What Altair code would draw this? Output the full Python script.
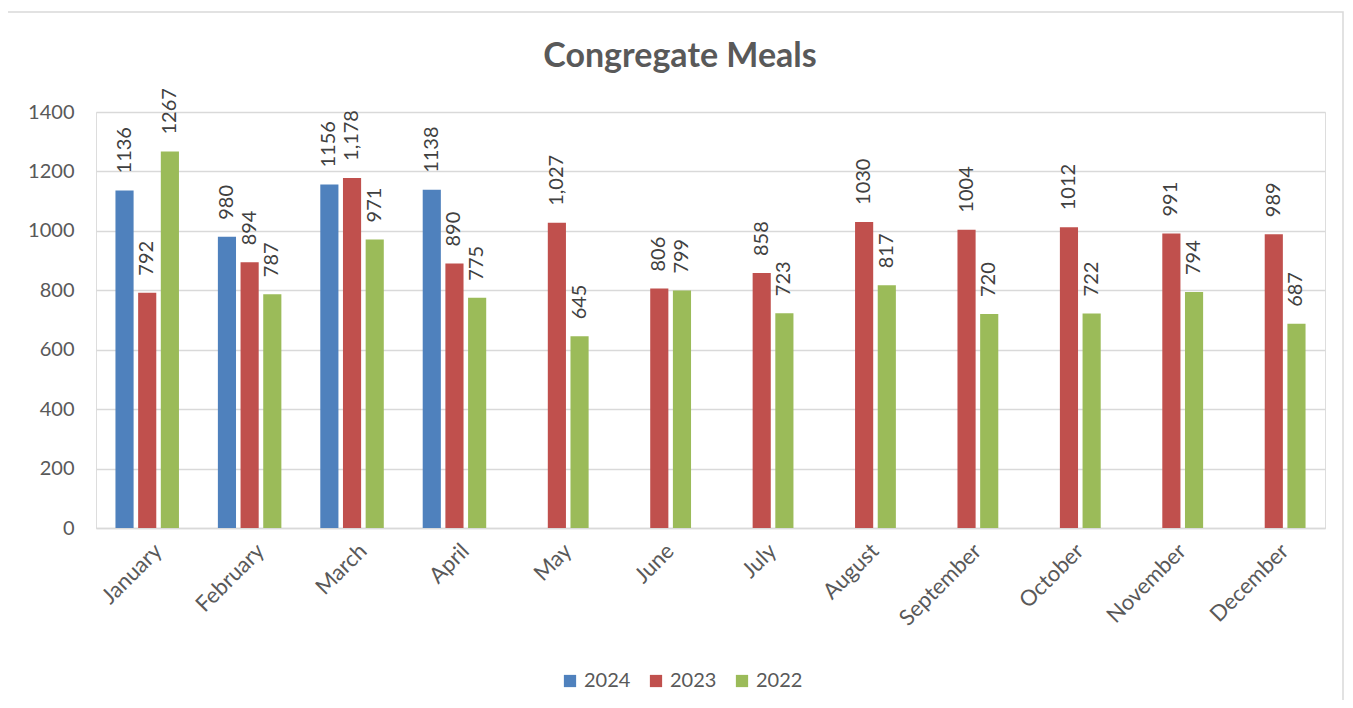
import altair as alt
import pandas as pd

months = ["January", "February", "March", "April", "May", "June", "July",
          "August", "September", "October", "November", "December"]
years = ["2024", "2023", "2022"]

vals_2024 = [1136, 980, 1156, 1138]
labels_2024 = ["1136", "980", "1156", "1138"]
vals_2023 = [792, 894, 1178, 890, 1027, 806, 858, 1030, 1004, 1012, 991, 989]
labels_2023 = ["792", "894", "1,178", "890", "1,027", "806", "858", "1030", "1004", "1012", "991", "989"]
vals_2022 = [1267, 787, 971, 775, 645, 799, 723, 817, 720, 722, 794, 687]
labels_2022 = ["1267", "787", "971", "775", "645", "799", "723", "817", "720", "722", "794", "687"]

chart_title = ["Congregate Meals"]
colors = ["#4F81BD", "#C0504D", "#9BBB59"]

rows = []
for yr, vals, labs in [("2024", vals_2024, labels_2024),
                       ("2023", vals_2023, labels_2023),
                       ("2022", vals_2022, labels_2022)]:
    for m, v, l in zip(months, vals, labs):
        rows.append({"month": m, "year": yr, "value": v, "label": l})
df = pd.DataFrame(rows)

FONT = "Lato"
GREY = "#595959"

x_enc = alt.X("month:N", sort=months, title=None,
              scale=alt.Scale(paddingInner=0.38, paddingOuter=0.19),
              axis=alt.Axis(labelAngle=-45, labelFontSize=22, labelColor=GREY,
                            labelFont=FONT, ticks=False, domainColor="#d9d9d9",
                            domainWidth=1.5, labelPadding=12, labelOffset=4))
xo_enc = alt.XOffset("year:N", sort=years,
                     scale=alt.Scale(domain=years, paddingInner=0.2, paddingOuter=0))
y_enc = alt.Y("value:Q", title=None,
              scale=alt.Scale(domain=[0, 1400], nice=False),
              axis=alt.Axis(values=list(range(0, 1401, 200)), format="d", labelFontSize=20,
                            labelColor=GREY, labelFont=FONT, ticks=False, domain=False,
                            gridColor="#d9d9d9", gridWidth=1.5, labelPadding=22))

bars = alt.Chart(df).mark_bar().encode(
    x=x_enc, xOffset=xo_enc, y=y_enc,
    color=alt.Color("year:N", sort=years,
                    scale=alt.Scale(domain=years, range=colors),
                    legend=alt.Legend(title=None, orient="none", direction="horizontal",
                                      legendX=464, legendY=559, symbolType="square",
                                      symbolSize=150, symbolStrokeWidth=0,
                                      labelFontSize=20, labelFont=FONT, labelColor=GREY,
                                      columnPadding=15, labelOffset=4)),
)

texts = alt.Chart(df).mark_text(angle=270, align="left", baseline="middle", dx=17,
                                fontSize=20, font=FONT, color="#404040").encode(
    x=alt.X("month:N", sort=months), xOffset=alt.XOffset("year:N", sort=years),
    y="value:Q", text="label:N",
)

title = alt.Chart(pd.DataFrame({"t": chart_title})).mark_text(
    fontSize=34, font=FONT, fontWeight="bold", color=GREY,
    align="center", baseline="middle").encode(
    text="t:N", x=alt.value(584), y=alt.value(-55))

frame = alt.Chart(pd.DataFrame({"a": [0]})).mark_rect(
    fill=None, stroke="#d9d9d9", strokeWidth=1.5).encode(
    x=alt.value(-89), x2=alt.value(1247), y=alt.value(-100), y2=alt.value(620))

chart = alt.layer(frame, bars, texts, title).properties(
    width=1229, height=416,
    autosize="none",
    padding={"left": 88, "top": 104, "right": 20, "bottom": 172},
).configure_view(stroke=None).configure(background="white")

chart.save("out.html", embed_options={"renderer": "svg", "actions": False})
